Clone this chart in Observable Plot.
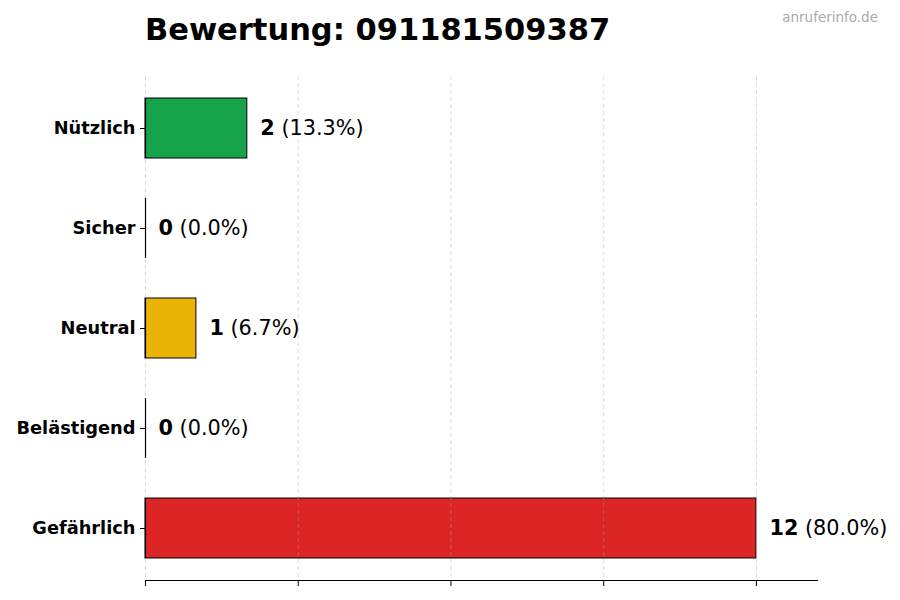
<!DOCTYPE html>
<html>
<head>
<meta charset="utf-8">
<script src="https://cdn.jsdelivr.net/npm/d3@7"></script>
<script src="https://cdn.jsdelivr.net/npm/@observablehq/plot@0.6"></script>
<style>
  body { margin: 0; background: #fff; font-family: "DejaVu Sans", sans-serif; }
  #wrap { position: relative; width: 900px; height: 600px; }
  #title { position: absolute; left: 145px; top: 12px; font-size: 30.5px; font-weight: bold; color: #000; white-space: nowrap; }
  #wm { position: absolute; right: 22px; top: 9px; font-size: 13.5px; color: #aaa; white-space: nowrap; }
  #chart { position: absolute; left: 0; top: 0; }
</style>
</head>
<body>
<div id="wrap">
  <div id="chart"></div>
  <div id="title">Bewertung: 091181509387</div>
  <div id="wm">anruferinfo.de</div>
</div>
<script>
const categories = ["Nützlich", "Sicher", "Neutral", "Belästigend", "Gefährlich"];
const counts = [2, 0, 1, 0, 12];
const percents = ["13.3%", "0.0%", "6.7%", "0.0%", "80.0%"];
const colors = ["#16a34a", "#22c55e", "#eab308", "#f97316", "#dc2626"];
const xTicks = [0, 3, 6, 9, 12];

const data = categories.map((c, i) => ({
  cat: c, value: counts[i], zero: 0, label: `${counts[i]} (${percents[i]})`, color: colors[i]
}));

const plot = Plot.plot({
  width: 900,
  height: 600,
  marginLeft: 145,
  marginRight: 83,
  marginTop: 76,
  marginBottom: 20,
  style: { fontFamily: "DejaVu Sans, sans-serif", background: "#fff" },
  x: { domain: [0, 13.2], ticks: xTicks, label: null },
  y: { domain: categories, range: [78, 578], paddingInner: 0.4, paddingOuter: 0.2, label: null },
  marks: [
    Plot.barX(data, { x: "value", y: "cat", fill: "color", stroke: "#000", strokeWidth: 1 }),
    Plot.gridX({ ticks: xTicks, stroke: "#a8a8a8", strokeOpacity: 0.5, strokeDasharray: "4,3", strokeWidth: 0.8 }),
    Plot.tickX(data, { x: "zero", y: "cat", stroke: "#000", strokeWidth: 1.2 }),
    Plot.text(data, { x: "value", y: "cat", text: "label", textAnchor: "start", dx: 13, fontSize: 20.8, fill: "#000", className: "vlabel" }),
    Plot.axisX({ ticks: xTicks, tickFormat: () => "", tickSize: 6, stroke: "#000" }),
    Plot.frame({ anchor: "bottom", stroke: "#000", strokeWidth: 1.2 }),
    Plot.axisY({ tickSize: 5, tickPadding: 5, fontSize: 17.8, fontWeight: "bold", fill: "#000", stroke: "#000" })
  ]
});

document.getElementById("chart").appendChild(plot);

d3.select(plot).selectAll(".vlabel text").each(function () {
  const t = this.textContent;
  const i = t.indexOf(" ");
  const num = t.slice(0, i), rest = t.slice(i);
  const sel = d3.select(this);
  sel.text(null);
  sel.append("tspan").attr("font-weight", "bold").text(num);
  sel.append("tspan").attr("font-weight", "normal").text(rest);
});
</script>
</body>
</html>
